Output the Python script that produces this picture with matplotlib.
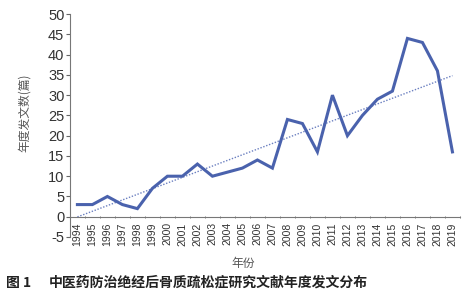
import matplotlib
matplotlib.use("Agg")
import matplotlib.pyplot as plt
import numpy as np

plt.rcParams['font.family'] = ['Noto Sans CJK SC', 'DejaVu Sans']

years = [str(y) for y in range(1994, 2020)]
counts = [3, 3, 5, 3, 2, 7, 10, 10, 13, 10, 11, 12, 14, 12, 24, 23, 16, 30, 20, 25, 29, 31, 44, 43, 36, 16]
yticks = list(range(-5, 51, 5))

fig = plt.figure(figsize=(4.66, 3.0), dpi=100)
ax = fig.add_axes([0.150, 0.21, 0.837, 0.743])

for s in ['top', 'right']:
    ax.spines[s].set_visible(False)
ax.spines['bottom'].set_position(('data', 0))
ax.spines['bottom'].set_color('#777777')
ax.spines['left'].set_color('#777777')

x = np.arange(len(years))
ax.plot(x, counts, color='#4a62ad', lw=2.2, solid_joinstyle='miter', zorder=3)
coef = np.polyfit(x, counts, 1)
ax.plot(x, np.polyval(coef, x), color='#6a7fc0', lw=1.0, ls=(0, (1, 1.2)), zorder=2)

ax.set_xlim(-0.5, len(years) - 0.5)
ax.set_ylim(-5, 50)
ax.set_yticks(yticks)
ax.set_yticklabels([str(t) for t in yticks], fontsize=10.5, color='#333333', family='Liberation Sans')
ax.set_xticks(x)
ax.set_xticklabels(years, rotation=90, fontsize=7.5, color='#333333', family='Liberation Sans')
ax.tick_params(axis='x', length=0, pad=4)
ax.set_xticks(np.arange(-0.5, len(years), 1), minor=True)
ax.tick_params(axis='x', which='minor', length=2, direction='inout', color='#666666')
ax.tick_params(axis='y', length=3, color='#666666', pad=1)

fig.text(0.052, 0.625, '年度发文数(篇)', rotation=90, ha='center', va='center', fontsize=8.5, color='#555555')
fig.text(0.522, 0.123, '年份', ha='center', va='center', fontsize=8.5, color='#555555')
fig.text(0.012, 0.057, '图 1', ha='left', va='center', fontsize=10, fontweight='bold', color='#222222')
fig.text(0.105, 0.057, '中医药防治绝经后骨质疏松症研究文献年度发文分布', ha='left', va='center',
         fontsize=10, fontweight='bold', color='#222222')

fig.savefig('out.png', dpi=100)
